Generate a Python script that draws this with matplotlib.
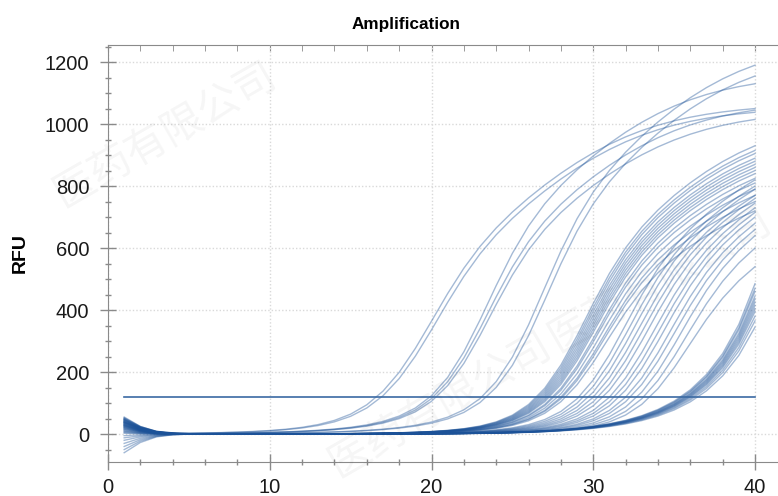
import numpy as np
import matplotlib.pyplot as plt

plt.rcParams['font.family'] = ['Liberation Sans', 'DejaVu Sans']

cycles = np.arange(1, 41)
threshold = 119.0

# threshold cycle (Ct) and RFU at cycle 40 for each well, by group
ct_g1 = [16.6, 16.9]
end_g1 = [1050, 1038]
ct_g2 = [19.9, 20.1, 20.3]
end_g2 = [1130, 1045, 1015]
ct_g3 = [23.1, 23.4]
end_g3 = [1190, 1155]
ct_g4 = [26.5, 26.6, 26.7, 26.8, 26.9, 27.0, 27.1, 27.2, 27.3, 27.5, 27.6, 27.8, 28.0, 28.1, 28.3]
end_g4 = [930, 915, 905, 890, 880, 870, 860, 850, 840, 825, 810, 790, 770, 750, 720]
ct_g5 = [29.1, 29.4, 29.7, 30.0, 30.3, 30.6, 31.0, 31.3, 31.6, 32.0, 32.3, 32.7, 33.1, 33.5]
end_g5 = [820, 800, 790, 770, 760, 745, 730, 715, 700, 680, 660, 640, 600, 540]
ct_g6 = [36.1, 36.2, 36.3, 36.4, 36.5, 36.6, 36.7, 36.8, 36.9, 37.0, 37.1, 37.2]
end_g6 = [485, 470, 460, 445, 435, 425, 415, 405, 395, 380, 365, 345]

# curve shape per group: (fast rise width, slow rise width, delay of slow rise, slow/fast size)
shape_g = [(1.8, 4.0, 6.5, 1.1),
           (1.6, 4.0, 5.5, 1.1),
           (1.6, 4.0, 5.5, 1.1),
           (1.6, 3.5, 5.5, 0.9),
           (1.6, 3.5, 5.5, 0.9),
           (1.6, 3.5, 5.5, 0.9)]

# RFU at cycle 1 for each well (baseline settling)
start_rfu = [45, 50, 38, 30, 52, 42, 35, 28, 48, 20, 40, 33, 25, 55, 44, 36,
             15, 47, 30, 22, 10, 38, 41, 27, 5, 50, 32, 18, -5, 43, 37, 24,
             -12, 29, 46, 12, -20, 34, 26, -30, 8, 39, -40, 21, -50, 16, -60, 3]
settle = [1.0, 0.45, 0.15, 0.04]


def sig(x):
    return 1 / (1 + np.exp(-x))


def shape(c, m, p):
    s1, s2, gap, r = p
    return sig((c - m) / s1) + r * sig((c - m - gap) / s2)


def well_curve(ct, end, p):
    m_grid = np.linspace(ct - 10, ct + 15, 6000)
    ratio = shape(ct, m_grid, p) / shape(40, m_grid, p)
    m = np.interp(threshold / end, ratio[::-1], m_grid[::-1])
    a = end / shape(40, m, p)
    return a * shape(cycles, m, p)


groups = [(ct_g1, end_g1), (ct_g2, end_g2), (ct_g3, end_g3),
          (ct_g4, end_g4), (ct_g5, end_g5), (ct_g6, end_g6)]

fig = plt.figure(figsize=(7.78, 4.96), dpi=100)
ax = fig.add_axes([108 / 778, 34 / 496, 680 / 778, 417 / 496])

k = 0
for gi, (cts, ends) in enumerate(groups):
    for ct, end in zip(cts, ends):
        y = well_curve(ct, end, shape_g[gi])
        y[:len(settle)] += start_rfu[k] * np.array(settle)
        ax.plot(cycles, y, color='#1c5298', alpha=0.4, lw=1.0, zorder=3)
        k += 1

ax.plot([1, 40], [threshold, threshold], color='#3b6aa3', lw=1.2, zorder=4)

ax.set_xlim(0, 680 / 16.175)
ax.set_ylim(-90, 1255)
ax.set_xticks([0, 10, 20, 30, 40])
ax.set_xticks(np.arange(0, 42, 2), minor=True)
ax.set_yticks(np.arange(0, 1201, 200))
ax.set_yticks(np.arange(-50, 1251, 50), minor=True)
ax.grid(which='major', color='#d9d9d9', linestyle=(0, (1, 1.5)), lw=1.0, zorder=0)

for side in ['top', 'right']:
    ax.spines[side].set_visible(False)
for side in ['left', 'bottom']:
    ax.spines[side].set_color('#8a8a8a')
ax.tick_params(which='major', direction='inout', length=11, width=1, color='#8a8a8a',
               labelsize=14.5, labelcolor='#1a1a1a', pad=8)
ax.tick_params(axis='x', which='major', pad=6)
ax.tick_params(which='minor', direction='inout', length=5, width=1, color='#8a8a8a')

top = ax.secondary_xaxis('top')
top.set_xticks([0, 10, 20, 30, 40])
top.set_xticks(np.arange(0, 42, 2), minor=True)
top.tick_params(which='both', direction='in', length=4, color='#8a8a8a', labeltop=False)
top.spines['top'].set_color('#8a8a8a')

fig.text(406 / 778, 1 - 24 / 496, 'Amplification', ha='center', va='center',
         fontsize=12.3, fontweight='bold')
fig.text(20 / 778, 1 - 253 / 496, 'RFU', rotation=90, ha='center', va='center',
         fontsize=14, fontweight='bold')

# faint watermark
wm = dict(color='#000000', alpha=0.04, fontsize=30, family=['Noto Sans CJK SC'],
          ha='center', va='center', rotation=30)
fig.text(165 / 778, 1 - 135 / 496, '医药有限公司', **wm)
fig.text(440 / 778, 1 - 405 / 496, '医药有限公司', **wm)
fig.text(660 / 778, 1 - 280 / 496, '医药有限公司', **wm)

fig.savefig('out.png', dpi=100)
